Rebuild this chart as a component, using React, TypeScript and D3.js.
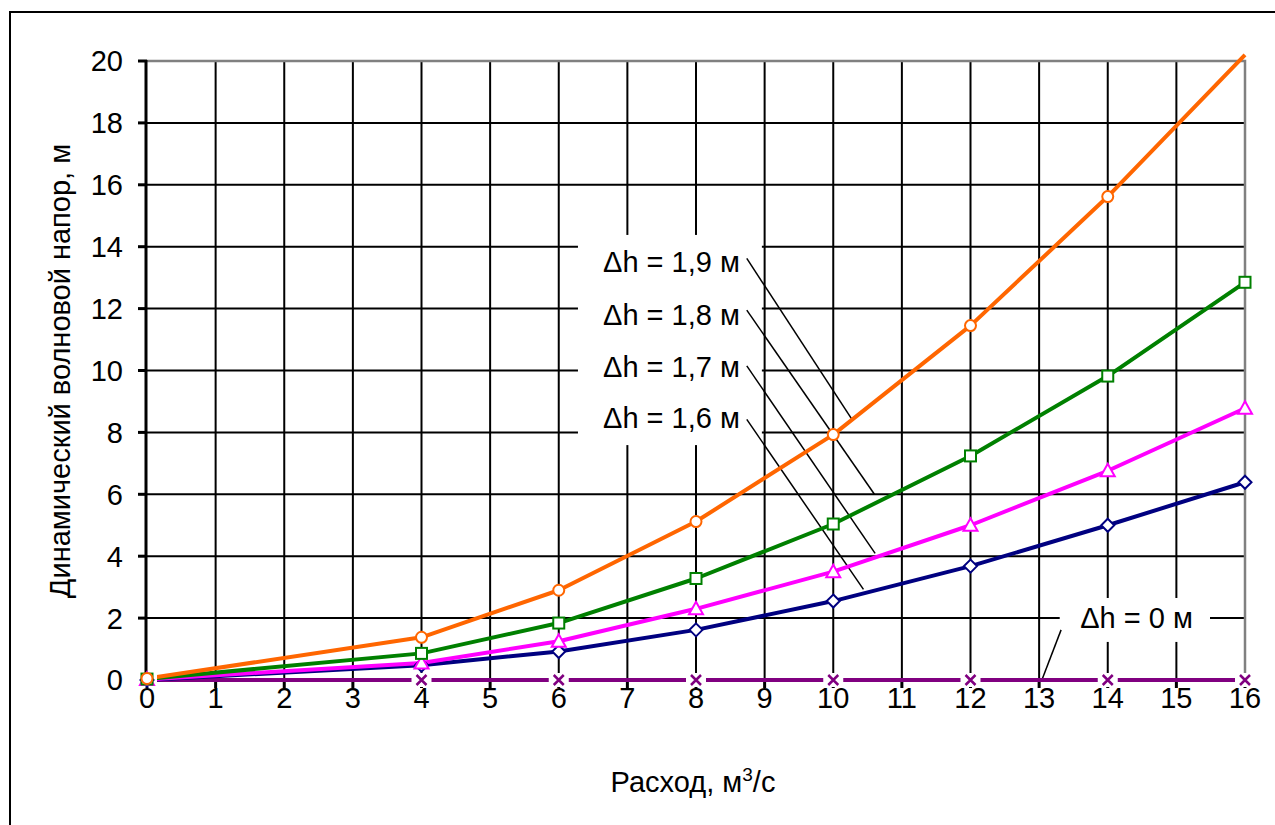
import React from "react";
import * as d3 from "d3";

const xValues = [0, 4, 6, 8, 10, 12, 14, 16];
const dh19 = [0.05, 1.38, 2.9, 5.12, 7.93, 11.45, 15.62, 20.2];
const dh18 = [0.03, 0.86, 1.84, 3.28, 5.04, 7.24, 9.82, 12.85];
const dh17 = [0.02, 0.55, 1.25, 2.3, 3.5, 5.0, 6.76, 8.78];
const dh16 = [0.0, 0.48, 0.92, 1.62, 2.55, 3.68, 5.0, 6.39];
const dh0 = [0, 0, 0, 0, 0, 0, 0, 0];

const xTicks = d3.range(0, 17, 1);
const yTicks = d3.range(0, 21, 2);

const seriesNames = ["Δh = 1,9 м", "Δh = 1,8 м", "Δh = 1,7 м", "Δh = 1,6 м", "Δh = 0 м"];
const seriesColors = ["#FF6600", "#008000", "#FF00FF", "#000080", "#800080"];
const seriesMarkers = ["circle", "square", "triangle", "diamond", "cross"];
const seriesValues = [dh19, dh18, dh17, dh16, dh0];

// annotation leader lines (data coordinates): start -> point on curve
const labelTextX = 8.64;
const labelBaselines = [13.18, 11.47, 9.79, 8.14];
const leaderStart = [[8.74, 13.62], [8.74, 11.95], [8.74, 10.15], [8.74, 8.42]];
const leaderEnd = [[10.27, 8.43], [10.6, 6.0], [10.61, 4.09], [10.44, 2.93]];
const labelBox = [6.28, 8.96, 14.38, 7.59];

const zeroLabelX = 15.24;
const zeroLabelBaseline = 1.68;
const zeroLeader = [[13.32, 1.62], [13.04, 0]];
const zeroBox = [13.3, 15.49, 2.65, 1.23];

const W = 1275;
const H = 825;
const FONT = "Arial, 'Liberation Sans', sans-serif";
const FS = 29;

export default function App() {
  const x = d3.scaleLinear().domain([0, 16]).range([147, 1245]);
  const y = d3.scaleLinear().domain([0, 20]).range([680, 61]);
  const line = d3
    .line<[number, number]>()
    .x((d) => x(d[0]))
    .y((d) => y(d[1]));

  const marker = (type: string, cx: number, cy: number, color: string, key: string) => {
    switch (type) {
      case "circle":
        return <circle key={key} cx={cx} cy={cy} r={5.5} fill="#fff" stroke={color} strokeWidth={2} />;
      case "square":
        return <rect key={key} x={cx - 5.5} y={cy - 5.5} width={11} height={11} fill="#fff" stroke={color} strokeWidth={2} />;
      case "triangle":
        return (
          <path key={key} d={`M${cx},${cy - 7}L${cx + 7},${cy + 5.5}L${cx - 7},${cy + 5.5}Z`} fill="#fff" stroke={color} strokeWidth={2} />
        );
      case "diamond":
        return (
          <path key={key} d={`M${cx},${cy - 6.5}L${cx + 6.5},${cy}L${cx},${cy + 6.5}L${cx - 6.5},${cy}Z`} fill="#fff" stroke={color} strokeWidth={2} />
        );
      default:
        return (
          <g key={key}>
            <rect x={cx - 10} y={cy - 7} width={20} height={14} fill="#fff" />
            <path d={`M${cx - 5},${cy - 5}L${cx + 5},${cy + 5}M${cx - 5},${cy + 5}L${cx + 5},${cy - 5}`} stroke={color} strokeWidth={2.5} />
          </g>
        );
    }
  };

  return (
    <svg width={W} height={H} style={{ position: "absolute", left: 0, top: 0, background: "#fff" }} fontFamily={FONT}>
      <rect x={0} y={0} width={W} height={H} fill="#fff" />
      {/* outer frame */}
      <path d={`M10,${H}V12H${W}`} fill="none" stroke="#000" strokeWidth={2} />

      {/* gridlines */}
      {xTicks.slice(1, -1).map((t) => (
        <line key={"vx" + t} x1={x(t)} x2={x(t)} y1={y(20)} y2={y(0)} stroke="#000" strokeWidth={2} />
      ))}
      {yTicks.slice(1, -1).map((t) => (
        <line key={"hy" + t} x1={x(0)} x2={x(16)} y1={y(t)} y2={y(t)} stroke="#000" strokeWidth={2} />
      ))}
      {/* plot border top/right */}
      <path d={`M${x(0)},${y(20)}H${x(16)}V${y(0)}`} fill="none" stroke="#808080" strokeWidth={2.5} />

      {/* axes */}
      <line x1={x(0) - 1} x2={x(0) - 1} y1={y(20) - 1} y2={y(0) + 1} stroke="#000" strokeWidth={3} />
      <line x1={x(0)} x2={x(16)} y1={y(0)} y2={y(0)} stroke="#000" strokeWidth={3} />
      {yTicks.map((t) => (
        <line key={"yt" + t} x1={x(0) - 9} x2={x(0)} y1={y(t)} y2={y(t)} stroke="#000" strokeWidth={3} />
      ))}
      {xTicks.map((t) => (
        <line key={"xt" + t} x1={x(t)} x2={x(t)} y1={y(0)} y2={y(0) + 8} stroke="#000" strokeWidth={3} />
      ))}
      {yTicks.map((t) => (
        <text key={"yl" + t} x={x(0) - 24} y={y(t) + 10.4} textAnchor="end" fontSize={FS} fill="#000">
          {t}
        </text>
      ))}
      {xTicks.map((t) => (
        <text key={"xl" + t} x={x(t)} y={y(0) + 27.5} textAnchor="middle" fontSize={FS} fill="#000">
          {t}
        </text>
      ))}

      {/* axis titles */}
      <text x={693} y={792} textAnchor="middle" fontSize={FS} fill="#000">
        Расход, м<tspan dy={-11} fontSize={19}>3</tspan>
        <tspan dy={11}>/с</tspan>
      </text>
      <text transform={`translate(69.5,371) rotate(-90)`} textAnchor="middle" fontSize={FS} fill="#000">
        Динамический волновой напор, м
      </text>

      {/* annotation boxes */}
      <rect x={x(labelBox[0])} y={y(labelBox[2])} width={x(labelBox[1]) - x(labelBox[0])} height={y(labelBox[3]) - y(labelBox[2])} fill="#fff" />
      <rect x={x(zeroBox[0])} y={y(zeroBox[2])} width={x(zeroBox[1]) - x(zeroBox[0])} height={y(zeroBox[3]) - y(zeroBox[2])} fill="#fff" />
      {labelBaselines.map((b, i) => (
        <text key={"lab" + i} x={x(labelTextX)} y={y(b)} textAnchor="end" fontSize={FS} fill="#000">
          {seriesNames[i]}
        </text>
      ))}
      <text x={x(zeroLabelX)} y={y(zeroLabelBaseline)} textAnchor="end" fontSize={FS} fill="#000">
        {seriesNames[4]}
      </text>
      {leaderStart.map((s, i) => (
        <line key={"ld" + i} x1={x(s[0])} y1={y(s[1])} x2={x(leaderEnd[i][0])} y2={y(leaderEnd[i][1])} stroke="#000" strokeWidth={1.5} />
      ))}
      <line x1={x(zeroLeader[0][0])} y1={y(zeroLeader[0][1])} x2={x(zeroLeader[1][0])} y2={y(zeroLeader[1][1])} stroke="#000" strokeWidth={1.5} />

      {/* series lines (zero line first) */}
      {[4, 3, 2, 1, 0].map((si) => (
        <path
          key={"s" + si}
          d={line(xValues.map((xv, i) => [xv, seriesValues[si][i]] as [number, number])) || ""}
          fill="none"
          stroke={seriesColors[si]}
          strokeWidth={4}
          strokeLinejoin="round"
        />
      ))}
      {/* markers */}
      {[4, 3, 2, 1, 0].map((si) =>
        xValues.map((xv, i) =>
          seriesValues[si][i] <= 20 ? marker(seriesMarkers[si], x(xv), y(seriesValues[si][i]), seriesColors[si], `m${si}-${i}`) : null
        )
      )}
    </svg>
  );
}
